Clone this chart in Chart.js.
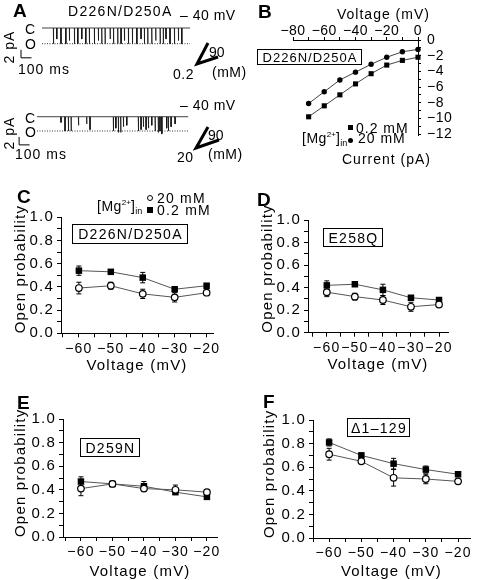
<!DOCTYPE html>
<html>
<head>
<meta charset="utf-8">
<title>Mg2+ and channel open probability</title>
<script src="https://cdn.jsdelivr.net/npm/chart.js@4.4.1/dist/chart.umd.min.js"></script>
<style>
  html, body { margin: 0; padding: 0; background: #fff; overflow: hidden; }
  body { position: relative; width: 477px; height: 580px; font-family: "Liberation Sans", Arial, sans-serif; color: #000; }
  canvas { position: absolute; }
  svg { position: absolute; left: 0; top: 0; pointer-events: none; }
  .t { position: absolute; font-size: 14px; line-height: 1; white-space: nowrap; }
  .pl { position: absolute; font-size: 19px; font-weight: bold; line-height: 1; }
  .box { position: absolute; box-sizing: border-box; border: 1px solid #000; font-size: 14px; line-height: 1;
         display: flex; align-items: center; justify-content: center; white-space: nowrap; }
  .mk { position: absolute; box-sizing: border-box; }
  sup { font-size: 8px; vertical-align: 6px; line-height: 0; letter-spacing: 0; }
  sub { font-size: 9px; vertical-align: -3px; line-height: 0; letter-spacing: 0; }
  .rot { position: absolute; transform: translate(-50%, -50%) rotate(-90deg); }
</style>
</head>
<body>

<canvas id="trace1"></canvas>
<canvas id="trace2"></canvas>
<canvas id="ivChart"></canvas>
<canvas id="chartC"></canvas>
<canvas id="chartD"></canvas>
<canvas id="chartE"></canvas>
<canvas id="chartF"></canvas>

<svg width="477" height="580">
  <polyline points="208,43 197,64 218,57" fill="none" stroke="#000" stroke-width="3"/>
  <polyline points="208,127 196,148 219,140" fill="none" stroke="#000" stroke-width="3"/>
</svg>

<!-- panel A -->
<div class="pl" style="left:13px;top:0.5px">A</div>
<div class="t" style="left:68px;top:4px;letter-spacing:1.3px">D226N/D250A</div>
<div class="t" style="left:180px;top:8px;letter-spacing:0.5px">– 40 mV</div>
<div class="t" style="left:25px;top:22px">C</div>
<div class="t" style="left:25px;top:37px">O</div>
<div class="t rot" style="left:9px;top:47px;letter-spacing:1px">2 pA</div>
<div class="t" style="left:18px;top:62px;letter-spacing:1px">100 ms</div>
<div class="t" style="left:209px;top:45px">90</div>
<div class="t" style="left:173px;top:66.5px;letter-spacing:0.5px">0.2</div>
<div class="t" style="left:212px;top:65px;letter-spacing:0.5px">(mM)</div>

<div class="t" style="left:180px;top:98px;letter-spacing:0.5px">– 40 mV</div>
<div class="t" style="left:25px;top:110.5px">C</div>
<div class="t" style="left:25px;top:125px">O</div>
<div class="t rot" style="left:9px;top:133px;letter-spacing:1px">2 pA</div>
<div class="t" style="left:15px;top:146.5px;letter-spacing:1px">100 ms</div>
<div class="t" style="left:208px;top:127.5px">90</div>
<div class="t" style="left:177px;top:150px;letter-spacing:0.5px">20</div>
<div class="t" style="left:208px;top:146.5px;letter-spacing:0.5px">(mM)</div>

<!-- panel B -->
<div class="pl" style="left:258px;top:1.5px">B</div>
<div class="t" style="left:337px;top:6.5px;letter-spacing:1px">Voltage (mV)</div>
<div class="t" style="left:342px;top:152px;letter-spacing:1px">Current (pA)</div>
<div class="box" style="left:257px;top:49px;width:105px;height:16px;font-size:13px;letter-spacing:1px;padding-left:1px">D226N/D250A</div>
<div class="mk" style="left:348px;top:124.5px;width:5px;height:5px;background:#000"></div>
<div class="t" style="left:356px;top:121px;letter-spacing:1px">0.2 mM</div>
<div class="t" style="left:302px;top:131px;letter-spacing:0.5px">[Mg<sup>2+</sup>]<sub>in</sub></div>
<div class="mk" style="left:348px;top:137.5px;width:5px;height:5px;background:#000;border-radius:50%"></div>
<div class="t" style="left:358px;top:131px;letter-spacing:1px">20 mM</div>

<!-- panel C -->
<div class="pl" style="left:17px;top:186.5px">C</div>
<div class="t" style="left:97px;top:199px;letter-spacing:0.5px">[Mg<sup>2+</sup>]<sub>in</sub></div>
<div class="mk" style="left:147px;top:195px;width:6px;height:6px;border:1.2px solid #000;border-radius:50%"></div>
<div class="t" style="left:157px;top:191px;letter-spacing:1.2px">20 mM</div>
<div class="mk" style="left:147px;top:207px;width:6px;height:6px;background:#000"></div>
<div class="t" style="left:157px;top:203px;letter-spacing:1.2px">0.2 mM</div>
<div class="box" style="left:72px;top:224px;width:116px;height:20px;letter-spacing:1.3px;padding-left:1px">D226N/D250A</div>

<!-- panel D -->
<div class="pl" style="left:257px;top:189.5px">D</div>
<div class="box" style="left:323px;top:228px;width:60px;height:19px;letter-spacing:1.3px;padding-left:1px">E258Q</div>

<!-- panel E -->
<div class="pl" style="left:17px;top:392.5px">E</div>
<div class="box" style="left:80px;top:438px;width:60px;height:19px;letter-spacing:1.3px;padding-left:1px">D259N</div>

<!-- panel F -->
<div class="pl" style="left:263px;top:391.5px">F</div>
<div class="box" style="left:347px;top:418px;width:63px;height:19px;letter-spacing:1.3px;padding-left:1px">Δ1–129</div>

<script>
// ---- A: single-channel records at -40 mV (opening start in ms, relative amplitude)
const trace1Starts = [108, 140, 180, 226, 260, 308, 340, 378, 416, 450, 498, 536, 568, 600, 648, 680, 720,
                      752, 784, 822, 860, 902, 942, 974, 1006, 1044, 1082, 1124, 1154, 1180, 1218, 1260, 1298, 1330];
const trace1Amps = [1, 0.7, 1, 1, 0.8, 1, 1, 0.7, 1, 1, 1, 0.8, 1, 1, 0.7, 1, 1,
                    1, 0.8, 1, 1, 1, 0.7, 1, 1, 1, 0.8, 1, 1, 0.7, 1, 1, 0.8, 1];
const trace2Starts = [228, 266, 298, 324, 394, 472, 504, 726, 750, 774, 796, 822, 854, 964,
                      990, 1012, 1038, 1060, 1092, 1124, 1154, 1170, 1188, 1234, 1250, 1276, 1314];
const trace2Amps = [0.4, 1.0, 1.0, 1.0, 0.6, 0.5, 0.9, 1.0, 0.8, 1.1, 1.1, 0.7, 0.6, 1.0,
                    0.9, 0.7, 0.9, 0.8, 0.6, 1.0, 1.1, 1.0, 1.2, 0.8, 1.0, 0.7, 0.5];
const unitCurrent1 = 3.9;   // pA, 0.2 mM record
const unitCurrent2 = 3.6;   // pA, 20 mM record
const dwell1 = 3;           // ms
const dwell2 = 4;           // ms
const traceEnd1 = 1410;
const traceEnd2 = 1440;

// ---- B: I-V relation
const ivVolts = [-70, -60, -50, -40, -30, -20, -10, 0];
const iv20mM = [-8.1, -6.6, -5.1, -4.1, -3.1, -2.2, -1.5, -1.2];
const iv02mM = [-9.8, -8.4, -7.0, -5.6, -4.3, -3.2, -2.6, -2.2];
const ivXTicks = [-80, -70, -60, -50, -40, -30, -20, -10, 0];
const ivXLabels = [-80, -60, -40, -20, 0];
const ivYTicks = [0, -1, -2, -3, -4, -5, -6, -7, -8, -9, -10, -11, -12];
const ivYLabels = [0, -2, -4, -6, -8, -10, -12];

// ---- C-F: open probability vs voltage
const poVolts = [-60, -50, -40, -30, -20];
const cLow = [0.54, 0.53, 0.48, 0.38, 0.41];
const cLowErr = [0.04, 0.02, 0.045, 0.02, 0.02];
const cHigh = [0.39, 0.41, 0.34, 0.31, 0.35];
const cHighErr = [0.05, 0.03, 0.04, 0.04, 0.02];

const dLow = [0.42, 0.43, 0.38, 0.31, 0.29];
const dLowErr = [0.04, 0.02, 0.05, 0.02, 0.02];
const dHigh = [0.36, 0.32, 0.29, 0.23, 0.25];
const dHighErr = [0.04, 0.03, 0.04, 0.04, 0.01];

const eLow = [0.47, 0.45, 0.43, 0.38, 0.34];
const eLowErr = [0.04, 0.01, 0.04, 0.02, 0.02];
const eHigh = [0.41, 0.45, 0.41, 0.40, 0.38];
const eHighErr = [0.06, 0.02, 0.02, 0.04, 0.02];

const fLow = [0.81, 0.70, 0.63, 0.58, 0.54];
const fLowErr = [0.03, 0.02, 0.045, 0.03, 0.01];
const fHigh = [0.71, 0.65, 0.51, 0.50, 0.48];
const fHighErr = [0.05, 0.01, 0.07, 0.04, 0.01];

const poXTicks = [-65, -60, -55, -50, -45, -40, -35, -30, -25, -20];
const poXLabels = [-60, -50, -40, -30, -20];
const poYTicks = [0, 0.1, 0.2, 0.3, 0.4, 0.5, 0.6, 0.7, 0.8, 0.9, 1];
const poYLabels = [0, 0.2, 0.4, 0.6, 0.8, 1];

Chart.defaults.font.family = '"Liberation Sans", Arial, sans-serif';
Chart.defaults.font.size = 14;
Chart.defaults.color = '#000';
Chart.defaults.animation = false;
Chart.defaults.responsive = false;
Chart.defaults.plugins.legend.display = false;
Chart.defaults.plugins.tooltip.enabled = false;

const minus = v => (v < 0 ? '\u2212' + Math.abs(v) : String(v));

// canvas letter spacing, the figure's text is spaced out
const spacing = {
    id: 'spacing',
    defaults: { px: 0 },
    beforeLayout(chart, args, o) { chart.ctx.letterSpacing = o.px + 'px'; },
    beforeDraw(chart, args, o) { chart.ctx.letterSpacing = o.px + 'px'; }
};

const errorBars = {
    id: 'errorBars',
    beforeDatasetsDraw(chart) {
        const ctx = chart.ctx;
        const ys = chart.scales.y;
        chart.data.datasets.forEach((ds, i) => {
            if (!ds.errors) return;
            const meta = chart.getDatasetMeta(i);
            ctx.save();
            ctx.strokeStyle = '#000';
            ctx.lineWidth = 1;
            meta.data.forEach((pt, j) => {
                const v = ds.data[j].y, e = ds.errors[j];
                const top = ys.getPixelForValue(v + e);
                const bot = ys.getPixelForValue(v - e);
                ctx.beginPath();
                ctx.moveTo(pt.x, top); ctx.lineTo(pt.x, bot);
                ctx.moveTo(pt.x - 2.5, top); ctx.lineTo(pt.x + 2.5, top);
                ctx.moveTo(pt.x - 2.5, bot); ctx.lineTo(pt.x + 2.5, bot);
                ctx.stroke();
            });
            ctx.restore();
        });
    }
};

const scaleBar = {
    id: 'scaleBar',
    defaults: { ms: 0 },
    afterDatasetsDraw(chart, args, o) {
        if (!o.ms) return;
        const { x, y } = chart.scales;
        const ctx = chart.ctx;
        const x0 = x.getPixelForValue(o.t0), x1 = x.getPixelForValue(o.t0 + o.ms);
        const y0 = y.getPixelForValue(o.i0), y1 = y.getPixelForValue(o.i0 + o.pA);
        ctx.save();
        ctx.strokeStyle = '#000';
        ctx.lineWidth = 1;
        ctx.beginPath();
        ctx.moveTo(x0, y1); ctx.lineTo(x0, y0); ctx.lineTo(x1, y0);
        ctx.stroke();
        ctx.restore();
    }
};

Chart.register(spacing, errorBars, scaleBar);

function place(id, left, top, width, height) {
    const cv = document.getElementById(id);
    cv.style.left = left + 'px';
    cv.style.top = top + 'px';
    cv.width = width;
    cv.height = height;
    return cv;
}

function stepPoints(starts, amps, unit, dwell, end) {
    const pts = [{ x: 0, y: 0 }];
    starts.forEach((t, i) => {
        const a = -amps[i] * unit;
        pts.push({ x: t, y: 0 }, { x: t, y: a }, { x: t + dwell, y: a }, { x: t + dwell, y: 0 });
    });
    pts.push({ x: end, y: 0 });
    return pts;
}

function traceChart(id, box, starts, amps, unit, dwell, end, xr, yr, bar) {
    const cv = place(id, ...box);
    new Chart(cv, {
        type: 'line',
        data: {
            datasets: [
                {
                    data: stepPoints(starts, amps, unit, dwell, end),
                    borderColor: '#111',
                    borderWidth: 0.8,
                    pointRadius: 0,
                    clip: false
                },
                {
                    data: [{ x: 0, y: -unit }, { x: end, y: -unit }],
                    borderColor: '#333',
                    borderWidth: 1,
                    borderDash: [1, 1.5],
                    pointRadius: 0
                }
            ]
        },
        options: {
            layout: { padding: 0 },
            scales: {
                x: { type: 'linear', display: false, min: xr[0], max: xr[1] },
                y: { display: false, min: yr[0], max: yr[1] }
            },
            plugins: { scaleBar: bar }
        }
    });
}

traceChart('trace1', [0, 18, 192, 44], trace1Starts, trace1Amps, unitCurrent1, dwell1, traceEnd1,
    [-400, 1428], [-8.44, 2.48], { ms: 100, pA: 2, t0: -200, i0: -7.4 });
traceChart('trace2', [0, 105, 192, 45], trace2Starts, trace2Amps, unitCurrent2, dwell2, traceEnd2,
    [-352, 1476], [-8.39, 2.95], { ms: 100, pA: 2, t0: -170, i0: -7.1 });

// ---- B
(function () {
    const cv = place('ivChart', 250, 0, 227, 150);
    new Chart(cv, {
        type: 'line',
        data: {
            datasets: [
                {
                    data: ivVolts.map((v, i) => ({ x: v, y: iv02mM[i] })),
                    borderColor: '#444', borderWidth: 1,
                    pointStyle: 'rect', pointRadius: 3.6,
                    pointBackgroundColor: '#000', pointBorderColor: '#000', pointBorderWidth: 0,
                    clip: false
                },
                {
                    data: ivVolts.map((v, i) => ({ x: v, y: iv20mM[i] })),
                    borderColor: '#444', borderWidth: 1,
                    pointStyle: 'circle', pointRadius: 2.7,
                    pointBackgroundColor: '#000', pointBorderColor: '#000', pointBorderWidth: 0,
                    clip: false
                }
            ]
        },
        options: {
            layout: { padding: { left: 43, top: 0, right: 0, bottom: 12 } },
            scales: {
                x: {
                    type: 'linear', position: 'top', min: -80, max: 0,
                    afterFit: s => { s.height = 40; },
                    afterBuildTicks: s => { s.ticks = ivXTicks.map(v => ({ value: v })); },
                    ticks: { autoSkip: false, maxRotation: 0, padding: -3,
                             callback: v => (ivXLabels.includes(v) ? minus(v) : '') },
                    grid: { drawOnChartArea: false, tickLength: 3, tickColor: '#000' },
                    border: { color: '#000', width: 1 }
                },
                y: {
                    position: 'right', min: -12.2, max: 0,
                    afterFit: s => { s.width = 59; },
                    afterBuildTicks: s => { s.ticks = ivYTicks.map(v => ({ value: v })); },
                    ticks: { autoSkip: false, padding: 6,
                             callback: v => (ivYLabels.includes(v) ? minus(v) : '') },
                    grid: { drawOnChartArea: false, tickLength: 3, tickColor: '#000' },
                    border: { color: '#000', width: 1 }
                }
            },
            plugins: { spacing: { px: 0.5 } }
        }
    });
})();

// ---- C-F
function probChart(id, box, area, titleAt, xr, low, lowErr, high, highErr) {
    const [bl, bt, bw, bh] = box;
    const [al, at, ar, ab] = area;
    const cv = place(id, bl, bt, bw, bh);
    new Chart(cv, {
        type: 'line',
        data: {
            datasets: [
                {
                    label: '20 mM',
                    data: poVolts.map((v, i) => ({ x: v, y: high[i] })),
                    errors: highErr,
                    borderColor: '#555', borderWidth: 1,
                    pointStyle: 'circle', pointRadius: 3.3,
                    pointBackgroundColor: '#fff', pointBorderColor: '#000', pointBorderWidth: 1.2,
                    clip: false
                },
                {
                    label: '0.2 mM',
                    data: poVolts.map((v, i) => ({ x: v, y: low[i] })),
                    errors: lowErr,
                    borderColor: '#555', borderWidth: 1,
                    pointStyle: 'rect', pointRadius: 4.6,
                    pointBackgroundColor: '#000', pointBorderColor: '#000', pointBorderWidth: 0,
                    clip: false
                }
            ]
        },
        options: {
            layout: { padding: { left: 0, top: at - bt, right: bl + bw - ar, bottom: 0 } },
            scales: {
                x: {
                    type: 'linear', min: xr[0], max: xr[1],
                    afterFit: s => { s.height = bt + bh - ab; },
                    afterBuildTicks: s => { s.ticks = poXTicks.map(v => ({ value: v })); },
                    ticks: { autoSkip: false, maxRotation: 0, padding: 3,
                             callback: v => (poXLabels.includes(v) ? minus(v) : '') },
                    grid: { drawOnChartArea: false, tickLength: 4, tickColor: '#000' },
                    border: { color: '#000', width: 1 },
                    title: { display: true, text: 'Voltage (mV)', font: { size: 15, lineHeight: 1 },
                             padding: { top: 0, bottom: bt + bh - titleAt[1] - 7.5 } }
                },
                y: {
                    min: 0, max: 1,
                    afterFit: s => { s.width = al - bl; },
                    afterBuildTicks: s => { s.ticks = poYTicks.map(v => ({ value: v })); },
                    ticks: { autoSkip: false, padding: 3, font: { size: 15 },
                             callback: v => (poYLabels.includes(v) ? v.toFixed(1) : '') },
                    grid: { drawOnChartArea: false, tickLength: 4, tickColor: '#000' },
                    border: { color: '#000', width: 1 },
                    title: { display: true, text: 'Open probability', align: 'start',
                             font: { size: 15, lineHeight: 1 },
                             padding: { top: titleAt[0] - bl - 7.5, bottom: 0 } }
                }
            },
            plugins: { spacing: { px: 1.2 } }
        }
    });
}

probChart('chartC', [0, 180, 238, 200], [61, 217.3, 213, 333.3], [21, 366], [-65.6, -18],
    cLow, cLowErr, cHigh, cHighErr);
probChart('chartD', [240, 180, 237, 200], [308, 220, 448, 332.7], [268, 365], [-66.7, -16.8],
    dLow, dLowErr, dHigh, dHighErr);
probChart('chartE', [0, 385, 238, 195], [63, 419, 217, 537], [21, 572], [-65.7, -16.8],
    eLow, eLowErr, eHigh, eHighErr);
probChart('chartF', [240, 385, 237, 195], [313, 420, 470, 538], [270, 572], [-65, -16.3],
    fLow, fLowErr, fHigh, fHighErr);
</script>
</body>
</html>
